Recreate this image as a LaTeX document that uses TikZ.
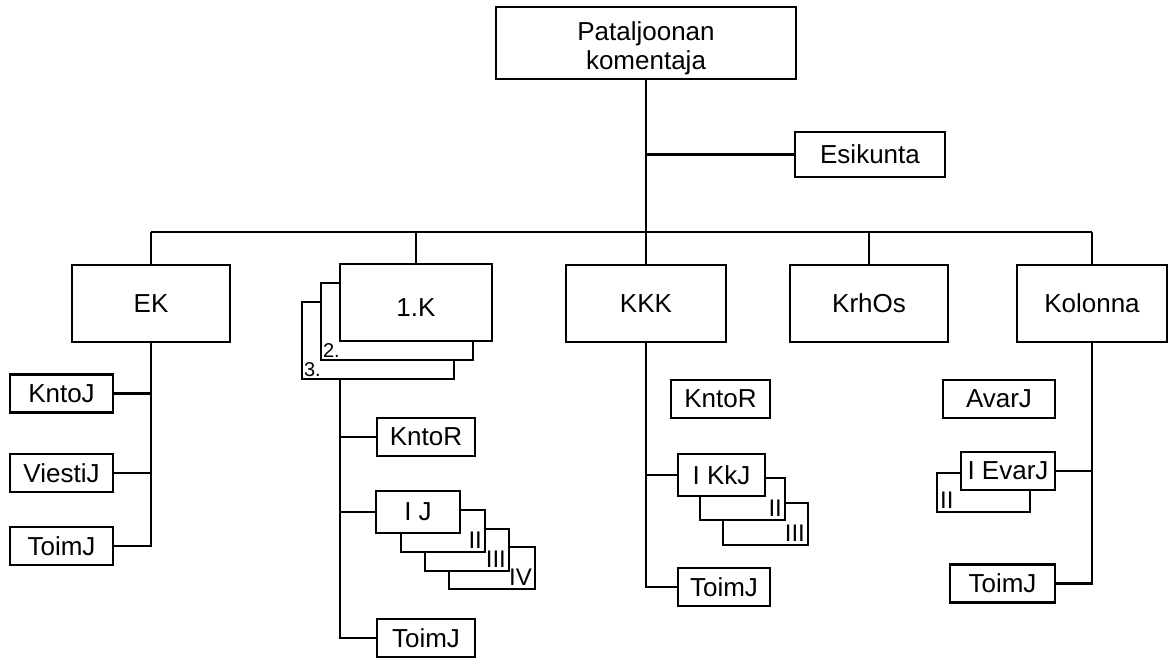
\documentclass[tikz,border=0pt]{standalone}
\usepackage{fontspec}
\setmainfont{Liberation Sans}
\usetikzlibrary{positioning, calc}

\begin{document}
\begin{tikzpicture}[
    x=0.5pt, y=-0.5pt,
    every node/.style={font=\fontsize{13}{14.5}\selectfont},
    box/.style={rectangle, draw, fill=white, line width=1.3pt, inner sep=0pt, align=center},
    unit/.style={box, minimum height=38.5pt},
    leaf/.style={box, minimum height=19pt},
    stackbox/.style={box, minimum height=21pt},
    conn/.style={line width=1.3pt},
    roman/.style={font=\fontsize{12}{12}\selectfont, inner sep=2pt},
    tag/.style={font=\fontsize{10}{10}\selectfont, inner sep=1.5pt}
]
    \useasboundingbox (0,0) rectangle (1169,659);

    % Commander and staff
    \node[box, minimum width=150pt, minimum height=36pt, text height=29pt] (cmd) at (646,43) {Pataljoonan\\komentaja};
    \node[box, minimum width=75pt, minimum height=22.5pt] (esik) at (870,154.5) {Esikunta};

    % Companies
    \node[unit, minimum width=79pt] (ek) at (151,303.5) {EK};
    \node[unit, minimum width=76pt] (k1c) at (378,340.5) {};
    \node[unit, minimum width=76pt] (k1b) at ($(k1c)+(19,-19)$) {};
    \node[unit, minimum width=76pt, text height=14pt] (k1) at ($(k1b)+(19,-19)$) {1.K};
    \node[tag, anchor=south west] (k1b_tag) at (k1b.south west) {2.};
    \node[tag, anchor=south west] (k1c_tag) at (k1c.south west) {3.};
    \node[unit, minimum width=80pt] (kkk) at (646,303.5) {KKK};
    \node[unit, minimum width=79pt] (krhos) at (869,303.5) {KrhOs};
    \node[unit, minimum width=75pt] (kolonna) at (1092,303.5) {Kolonna};

    % Top level lines
    \coordinate (bus) at (646,232);
    \draw[conn] (cmd.south) -- (kkk.north);
    \draw[conn] (cmd.south |- esik.west) -- (esik.west);
    \draw[conn] (ek.north |- bus) -- (kolonna.north |- bus);
    \foreach \n in {ek, k1, krhos, kolonna}
        \draw[conn] (\n.north |- bus) -- (\n.north);

    % EK
    \node[leaf, minimum width=51.5pt] (kntoj) at (61.5,393.5) {KntoJ};
    \node[leaf, minimum width=51.5pt] (viestij) at (61.5,473) {ViestiJ};
    \node[leaf, minimum width=51.5pt] (toimj1) at (61.5,546) {ToimJ};
    \draw[conn] (ek.south) |- (toimj1.east);
    \draw[conn] (ek.south |- kntoj.east) -- (kntoj.east);
    \draw[conn] (ek.south |- viestij.east) -- (viestij.east);

    % 1.K
    \coordinate (spine1) at (340,379);
    \node[leaf, minimum width=49pt] (kntor1) at (426,437) {KntoR};
    \node[stackbox, minimum width=43pt] (ij4) at (492,568) {};
    \node[stackbox, minimum width=42pt] (ij3) at ($(ij4)+(-25,-18)$) {};
    \node[stackbox, minimum width=42pt] (ij2) at ($(ij3)+(-24,-19)$) {};
    \node[stackbox, minimum width=42pt] (ij) at ($(ij2)+(-25,-19)$) {I J};
    \node[roman, anchor=south east] (ij2_tag) at (ij2.south east) {II};
    \node[roman, anchor=south east] (ij3_tag) at (ij3.south east) {III};
    \node[roman, anchor=south east] (ij4_tag) at (ij4.south east) {IV};
    \node[leaf, minimum width=49pt] (toimj2) at (426,638) {ToimJ};
    \draw[conn] (spine1) |- (toimj2.west);
    \draw[conn] (spine1 |- kntor1.west) -- (kntor1.west);
    \draw[conn] (spine1 |- ij.west) -- (ij.west);

    % KKK
    \node[leaf, minimum width=49.5pt] (kntor2) at (720.5,399) {KntoR};
    \node[stackbox, minimum width=42.5pt] (ikkj3) at (765.5,524) {};
    \node[stackbox, minimum width=42.5pt] (ikkj2) at ($(ikkj3)+(-23,-25)$) {};
    \node[stackbox, minimum width=43.5pt] (ikkj) at ($(ikkj2)+(-21,-24)$) {I KkJ};
    \node[roman, anchor=south east] (ikkj2_tag) at (ikkj2.south east) {II};
    \node[roman, anchor=south east] (ikkj3_tag) at (ikkj3.south east) {III};
    \node[leaf, minimum width=46pt] (toimj3) at (724,587) {ToimJ};
    \draw[conn] (kkk.south) |- (toimj3.west);
    \draw[conn] (kkk.south |- ikkj.west) -- (ikkj.west);

    % Kolonna
    \node[leaf, minimum width=56pt] (avarj) at (999,399) {AvarJ};
    \node[box, minimum width=46.5pt, minimum height=19.5pt] (ievarj2) at (983.5,492.5) {};
    \node[leaf, minimum width=47pt] (ievarj) at ($(ievarj2)+(24.5,-21.5)$) {I EvarJ};
    \node[roman, anchor=south west] (ievarj2_tag) at (ievarj2.south west) {II};
    \node[leaf, minimum width=52.5pt] (toimj4) at (1002.5,583.5) {ToimJ};
    \draw[conn] (kolonna.south) |- (toimj4.east);
    \draw[conn] (kolonna.south |- ievarj.east) -- (ievarj.east);

\end{tikzpicture}
\end{document}
